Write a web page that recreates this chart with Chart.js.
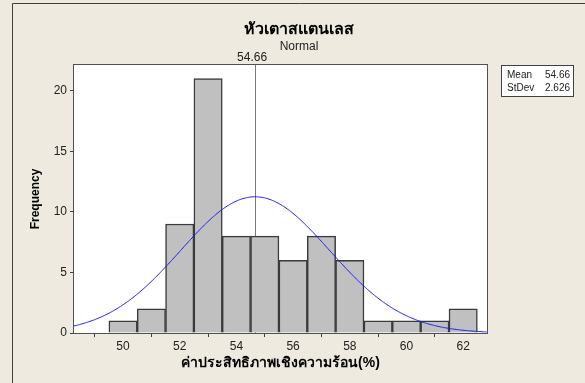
<!DOCTYPE html>
<html>
<head>
<meta charset="utf-8">
<script src="https://cdn.jsdelivr.net/npm/chart.js@4.4.1/dist/chart.umd.min.js"></script>
<style>
  html, body { margin: 0; padding: 0; background: #EEEAE0; }
  #wrap { width: 585px; height: 383px; position: relative; }
</style>
</head>
<body>
<div id="wrap"><canvas id="c" width="585" height="383"></canvas></div>
<script>
// Histogram of heating efficiency (%), bins of width 1 centred on whole numbers
const BIN_CENTERS = [50, 51, 52, 53, 54, 55, 56, 57, 58, 59, 60, 61, 62];
const COUNTS      = [1, 2, 9, 21, 8, 8, 6, 8, 6, 1, 1, 1, 2];
const X_TICKS = [50, 52, 54, 56, 58, 60, 62];
const Y_TICKS = [0, 5, 10, 15, 20];
const MEAN = 54.66;
const STDEV = 2.626;
const BIN_WIDTH = 1;

const TITLE = 'หัวเตาสแตนเลส';
const SUBTITLE = 'Normal';
const X_TITLE = 'ค่าประสิทธิภาพเชิงความร้อน(%)';
const Y_TITLE = 'Frequency';

const X_MIN = 48.27, X_MAX = 62.84, Y_MAX = 22.12;

const N = COUNTS.reduce((a, b) => a + b, 0);

// fitted normal density scaled to counts
const curve = [];
for (let x = X_MIN; x <= X_MAX + 1e-9; x += 0.04) {
  const z = (x - MEAN) / STDEV;
  const y = N * BIN_WIDTH * Math.exp(-0.5 * z * z) / (STDEV * Math.sqrt(2 * Math.PI));
  curve.push({ x: x, y: y });
}

const FONT = '"Liberation Sans", Arial, sans-serif';
const BG = '#EEEAE0';

const frame = {
  id: 'frame',
  beforeDraw(chart) {
    const ctx = chart.ctx;
    ctx.save();
    ctx.fillStyle = BG;
    ctx.fillRect(0, 0, chart.width, chart.height);
    // outer frame
    ctx.strokeStyle = '#404040';
    ctx.lineWidth = 1;
    ctx.beginPath();
    ctx.moveTo(12.5, chart.height + 2);
    ctx.lineTo(12.5, 3.5);
    ctx.lineTo(chart.width + 2, 3.5);
    ctx.stroke();
    const a = chart.chartArea;
    ctx.fillStyle = '#FFFFFF';
    ctx.fillRect(a.left, a.top, a.right - a.left, a.bottom - a.top);
    ctx.restore();
  },
  beforeDatasetsDraw(chart) {
    const ctx = chart.ctx;
    const a = chart.chartArea;
    const xs = chart.scales.x;
    const px = Math.round(xs.getPixelForValue(MEAN)) + 0.5;
    ctx.save();
    ctx.strokeStyle = '#7a7a7a';
    ctx.lineWidth = 1;
    ctx.beginPath();
    ctx.moveTo(px, a.top);
    ctx.lineTo(px, a.bottom);
    ctx.stroke();
    ctx.restore();
  },
  afterDraw(chart) {
    const ctx = chart.ctx;
    const a = chart.chartArea;
    const xs = chart.scales.x;
    ctx.save();
    // plot border
    ctx.strokeStyle = '#505050';
    ctx.lineWidth = 1;
    ctx.strokeRect(Math.round(a.left) - 0.5, Math.round(a.top) - 0.5,
                   Math.round(a.right - a.left) + 1, Math.round(a.bottom - a.top) + 1);

    const cx = (12 + chart.width) / 2 + 0.5;
    ctx.fillStyle = '#000';
    ctx.textAlign = 'center';
    ctx.textBaseline = 'middle';
    ctx.font = 'bold 16px ' + FONT;
    ctx.fillText(TITLE, cx, 30);
    ctx.font = '12px ' + FONT;
    ctx.fillStyle = '#222';
    ctx.fillText(SUBTITLE, cx, 47);
    // mean label
    ctx.fillText(MEAN.toFixed(2), xs.getPixelForValue(MEAN) - 3, 58);

    // axis titles
    ctx.fillStyle = '#000';
    ctx.font = 'bold 14px ' + FONT;
    ctx.fillText(X_TITLE, (a.left + a.right) / 2, 363);
    ctx.save();
    ctx.translate(36, (a.top + a.bottom) / 2);
    ctx.rotate(-Math.PI / 2);
    ctx.font = 'bold 12px ' + FONT;
    ctx.fillText(Y_TITLE, 0, 0);
    ctx.restore();

    // stats box
    ctx.fillStyle = '#FFFFFF';
    ctx.fillRect(501, 65, 73, 32);
    ctx.strokeStyle = '#404040';
    ctx.strokeRect(501.5, 65.5, 72, 31);
    ctx.fillStyle = '#222';
    ctx.font = '10px ' + FONT;
    ctx.textAlign = 'left';
    ctx.fillText('Mean', 507, 75);
    ctx.fillText('StDev', 507, 88);
    ctx.textAlign = 'right';
    ctx.fillText(MEAN.toFixed(2), 570, 75);
    ctx.fillText(STDEV.toFixed(3), 570, 88);
    ctx.restore();
  }
};

new Chart(document.getElementById('c'), {
  type: 'bar',
  data: {
    datasets: [
      {
        type: 'line',
        data: curve,
        borderColor: '#1a1aff',
        borderWidth: 1,
        pointRadius: 0,
        tension: 0,
        order: 0
      },
      {
        type: 'bar',
        data: BIN_CENTERS.map((c, i) => ({ x: c, y: COUNTS[i] })),
        backgroundColor: '#C0C0C0',
        borderColor: '#3a3a3a',
        borderWidth: 1.5,
        barPercentage: 1,
        categoryPercentage: 1,
        grouped: false,
        order: 1
      }
    ]
  },
  options: {
    responsive: false,
    animation: false,
    devicePixelRatio: 1,
    layout: { padding: { left: 0, top: 65, right: 98, bottom: 0 } },
    plugins: { legend: { display: false }, tooltip: { enabled: false } },
    scales: {
      x: {
        type: 'linear',
        min: X_MIN,
        max: X_MAX,
        offset: false,
        afterBuildTicks: s => { s.ticks = X_TICKS.map(v => ({ value: v })); },
        afterFit: s => { s.height = 50; },
        grid: { drawOnChartArea: false, drawTicks: true, tickLength: 4, color: '#404040' },
        border: { display: false },
        ticks: { color: '#222', font: { family: FONT, size: 12 }, padding: 2, maxRotation: 0, autoSkip: false }
      },
      y: {
        min: 0,
        max: Y_MAX,
        afterBuildTicks: s => { s.ticks = Y_TICKS.map(v => ({ value: v })); },
        afterFit: s => { s.width = 74; },
        grid: { drawOnChartArea: false, drawTicks: true, tickLength: 4, color: '#404040' },
        border: { display: false },
        ticks: { color: '#222', font: { family: FONT, size: 12 }, padding: 3 }
      }
    }
  },
  plugins: [frame]
});
</script>
</body>
</html>
